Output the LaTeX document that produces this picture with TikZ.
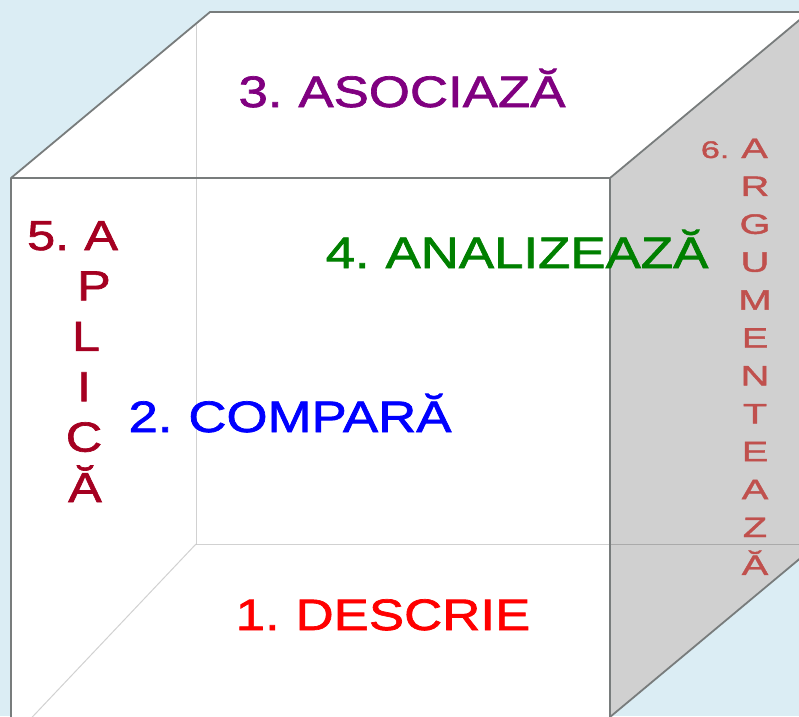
\documentclass[tikz,border=0pt]{standalone}
\usepackage{fontspec}
\setmainfont{Liberation Sans}
\newfontfamily\cubefont[FakeStretch=1.2,FakeBold=1.6,WordSpace=0.75]{Liberation Sans}
\newfontfamily\sidefont[FakeStretch=1.42,FakeBold=1.6,WordSpace=0.75]{Liberation Sans}
\definecolor{sky}{RGB}{219,237,244}
\definecolor{facegray}{RGB}{208,208,208}
\definecolor{edgegray}{RGB}{120,124,124}
\definecolor{asociacol}{RGB}{128,0,128}
\definecolor{analizcol}{RGB}{0,128,0}
\definecolor{comparcol}{RGB}{0,0,255}
\definecolor{descrcol}{RGB}{255,0,0}
\definecolor{aplicol}{RGB}{165,0,33}
\definecolor{argcol}{RGB}{192,80,77}

\begin{document}
\begin{tikzpicture}[x=1pt,y=-1pt]
                        \tikzstyle{edge}=[draw=edgegray,line width=1.8pt,line join=round]
                        \tikzstyle{hidden}=[draw=black,opacity=0.18,line width=1pt]
                        \tikzstyle{word}=[inner sep=0pt,anchor=base,font=\cubefont\fontsize{44}{48}\selectfont]
                        \tikzstyle{letter}=[inner sep=0pt,anchor=base,text=aplicol,font=\cubefont\fontsize{42}{46}\selectfont]
                        \tikzstyle{side}=[inner sep=0pt,anchor=base,text=argcol,font=\sidefont\fontsize{28}{30}\selectfont]
                        \useasboundingbox (0,0) rectangle (799,716);
                        \clip (0,0) rectangle (799,716);
                        \fill[sky] (0,0) rectangle (799,716);
                        \coordinate (ftl) at (11,178);
                        \coordinate (ftr) at (610,178);
                        \coordinate (fbl) at (11,717);
                        \coordinate (fbr) at (610,717);
                        \coordinate (btl) at (210,12);
                        \coordinate (btr) at (809,12);
                        \coordinate (bbr) at (809,551);
                        \coordinate (htl) at (196,24);
                        \coordinate (hbl) at (196,544);
                        \coordinate (hbr) at (812,544);
                        \coordinate (hfl) at (20,730);
                        \fill[white] (ftl) -- (btl) -- (btr) -- (ftr) -- cycle;
                        \fill[white] (ftl) -- (ftr) -- (fbr) -- (fbl) -- cycle;
                        \fill[facegray] (ftr) -- (btr) -- (bbr) -- (fbr) -- cycle;
                        \draw[hidden] (htl) -- (hbl) -- (hbr);
                        \draw[hidden] (hbl) -- (hfl);
                        \draw[edge] (fbl) -- (ftl) -- (btl) -- (btr);
                        \draw[edge] (ftl) -- (ftr) -- (btr);
                        \draw[edge] (ftr) -- (fbr) -- (bbr);
                        \node[word,text=asociacol] (asociaza) at (402,107) {3. ASOCIAZĂ};
                        \node[word,text=analizcol] (analizeaza) at (517,268) {4. ANALIZEAZĂ};
                        \node[word,text=comparcol] (compara) at (290,432) {2. COMPARĂ};
                        \node[word,text=descrcol] (descrie) at (383,630) {1. DESCRIE};
                        \node[letter,anchor=base west] (aplica) at (27,250) {5. A};
                        \foreach \l/\x [count=\i] in {P/94,L/86,I/84,C/84,Ă/85}
                            \node[letter] (aplica-\i) at (\x,250+50.4*\i) {\l};
                        \node[side,anchor=base east] (argumenteaza) at (768,158) {{\fontsize{24}{26}\selectfont 6.} A};
                        \foreach \l [count=\i] in {R,G,U,M,E,N,T,E,A,Z,Ă}
                            \node[side] (argumenteaza-\i) at (755,158+37.9*\i) {\l};
                    \end{tikzpicture}
\end{document}
